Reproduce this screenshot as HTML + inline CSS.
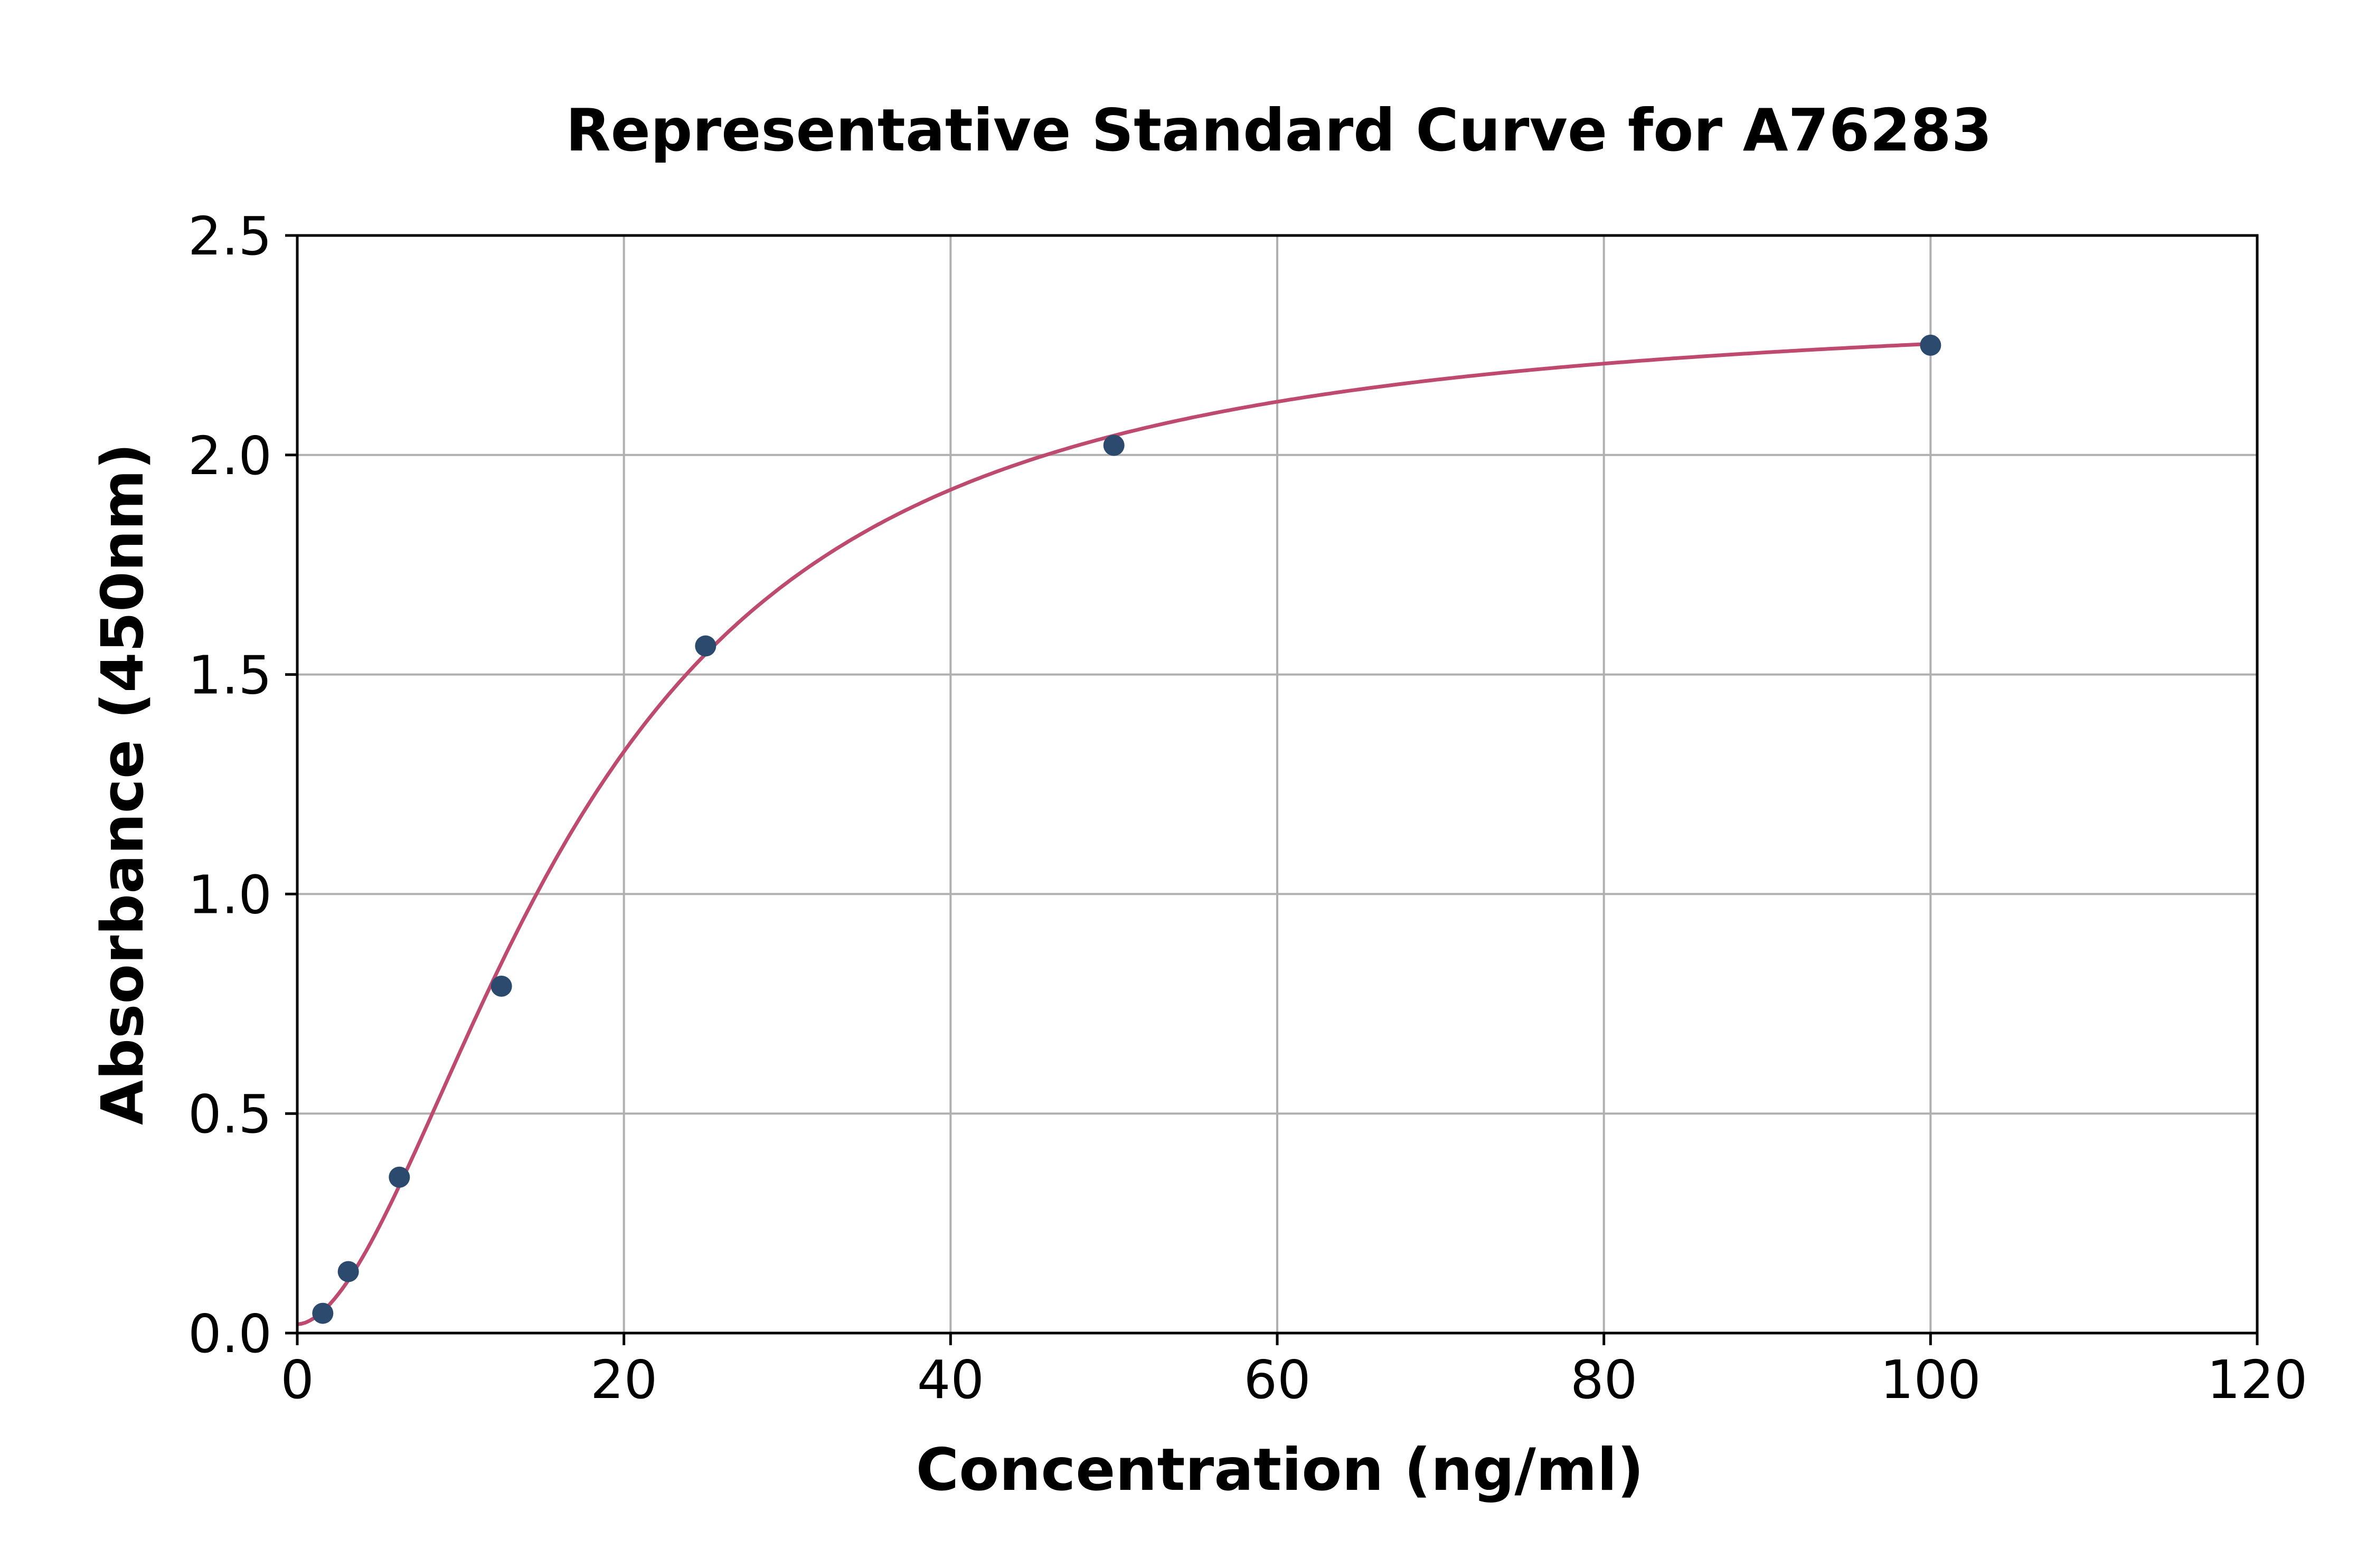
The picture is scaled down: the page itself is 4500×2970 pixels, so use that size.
<!DOCTYPE html>
<html><head><style>body{margin:0;background:#fff}svg{display:block}</style></head>
<body>
<svg id="s" width="4500" height="2970" xmlns="http://www.w3.org/2000/svg" font-family="DejaVu Sans, Liberation Sans, sans-serif">
<rect width="4500" height="2970" fill="#fff"/>
<g id="grid" stroke="#b0b0b0" stroke-width="4"></g>
<path id="curve" fill="none" stroke="#bf4a70" stroke-width="7"/>
<g id="pts" fill="#2c4a6e"></g>
<rect x="563" y="446" width="3712" height="2079" fill="none" stroke="#000" stroke-width="5"/>
<g id="ticks" stroke="#000" stroke-width="5"></g>
<g id="lbl" font-size="100" fill="#000"></g>
<text x="2422" y="285" text-anchor="middle" font-size="111" font-weight="bold">Representative Standard Curve for A76283</text>
<text x="2424" y="2822" text-anchor="middle" font-size="111" font-weight="bold">Concentration (ng/ml)</text>
<text transform="translate(270,1485) rotate(-90)" text-anchor="middle" font-size="110" font-weight="bold">Absorbance (450nm)</text>
</svg>
<script>
var NS="http://www.w3.org/2000/svg";
function X(v){return 563+v*3712/120}
function Y(v){return 2525-v*2079/2.5}
function el(p,t,a,txt){var e=document.createElementNS(NS,t);for(var k in a)e.setAttribute(k,a[k]);if(txt!=null)e.textContent=txt;document.getElementById(p).appendChild(e);}
for(var i=0;i<=120;i+=20){var x=X(i);
 if(i>0&&i<120)el("grid","line",{x1:x,x2:x,y1:446,y2:2525});
 el("ticks","line",{x1:x,x2:x,y1:2525,y2:2548});
 el("lbl","text",{x:x,y:2648,"text-anchor":"middle"},String(i));}
for(var j=0;j<=5;j++){var v=j*0.5,y=Y(v);
 if(j>0&&j<5)el("grid","line",{x1:563,x2:4275,y1:y,y2:y});
 el("ticks","line",{x1:540,x2:563,y1:y,y2:y});
 el("lbl","text",{x:515,y:y+36,"text-anchor":"end"},v.toFixed(1));}
var A=0.02,D=2.35,C=17.5,B=1.8,d="";
for(var k=0;k<=400;k++){var c=k*100/400;var f=D+(A-D)/(1+Math.pow(c/C,B));d+=(k?"L":"M")+X(c).toFixed(1)+","+Y(f).toFixed(1);}
document.getElementById("curve").setAttribute("d",d);
[[1.5625,0.045],[3.125,0.14],[6.25,0.355],[12.5,0.79],[25,1.565],[50,2.022],[100,2.25]].forEach(function(p){el("pts","circle",{cx:X(p[0]),cy:Y(p[1]),r:20});});
</script>
</body></html>
